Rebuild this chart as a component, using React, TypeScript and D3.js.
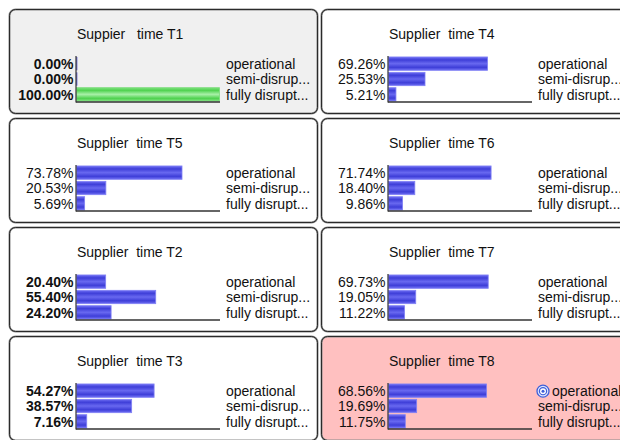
import React from "react";
import * as d3 from "d3";

const titles = [
  "Suppier   time T1",
  "Supplier  time T4",
  "Supplier  time T5",
  "Supplier  time T6",
  "Supplier  time T2",
  "Supplier  time T7",
  "Supplier  time T3",
  "Supplier  time T8",
];
const states = ["operational", "semi-disrup...", "fully disrupt..."];
const valuesT1 = [0.0, 0.0, 100.0];
const valuesT4 = [69.26, 25.53, 5.21];
const valuesT5 = [73.78, 20.53, 5.69];
const valuesT6 = [71.74, 18.4, 9.86];
const valuesT2 = [20.4, 55.4, 24.2];
const valuesT7 = [69.73, 19.05, 11.22];
const valuesT3 = [54.27, 38.57, 7.16];
const valuesT8 = [68.56, 19.69, 11.75];
const nodeValues = [valuesT1, valuesT4, valuesT5, valuesT6, valuesT2, valuesT7, valuesT3, valuesT8];
const observed = [true, false, false, false, true, false, true, false];
const nodeKind = ["finding", "normal", "normal", "normal", "normal", "normal", "normal", "target"];

const FONT = "'Liberation Sans', Arial, Helvetica, sans-serif";

export default function App() {
  const colX = d3.scaleOrdinal<number, number>().domain([0, 1]).range([9, 321]);
  const rowY = d3.scaleOrdinal<number, number>().domain([0, 1, 2, 3]).range([9, 118, 227, 336]);
  const barX = d3.scaleLinear().domain([0, 100]).range([0, 143]);
  const barY = d3.scaleBand<number>().domain([0, 1, 2]).range([47.5, 92.5]).paddingInner(0.13).paddingOuter(0.03);
  const W = 308;
  const H = 104;

  return (
    <svg width={620} height={440} style={{ position: "absolute", left: 0, top: 0 }} fontFamily={FONT}>
      <defs>
        <linearGradient id="blueG" x1="0" y1="0" x2="0" y2="1">
          <stop offset="0" stopColor="#7070f4" />
          <stop offset="0.22" stopColor="#3e3ed8" />
          <stop offset="0.5" stopColor="#6868f0" />
          <stop offset="0.78" stopColor="#3e3ed8" />
          <stop offset="1" stopColor="#7070f4" />
        </linearGradient>
        <linearGradient id="greenG" x1="0" y1="0" x2="0" y2="1">
          <stop offset="0" stopColor="#7ee07e" />
          <stop offset="0.2" stopColor="#4fd24f" />
          <stop offset="0.5" stopColor="#a8f0a8" />
          <stop offset="0.8" stopColor="#4fd24f" />
          <stop offset="1" stopColor="#7ee07e" />
        </linearGradient>
      </defs>
      <rect x={0} y={0} width={620} height={440} fill="#ffffff" />
      {titles.map((title, i) => {
        const col = i % 2;
        const row = Math.floor(i / 2);
        const px = colX(col);
        const py = rowY(row);
        const vals = nodeValues[i];
        const fill = nodeKind[i] === "finding" ? "#f0f0f0" : nodeKind[i] === "target" ? "#ffc0c0" : "#ffffff";
        const axisX = px + 67;
        return (
          <g key={i}>
            <rect x={px + 0.5} y={py + 0.5} width={W} height={H} rx={6} ry={6} fill={fill} stroke="#8a8a8a" strokeWidth={2} />
            <rect x={px + 0.5} y={py + 0.5} width={W} height={H} rx={6} ry={6} fill="none" stroke="#2a2a2a" strokeWidth={1} />
            <text x={px + 68} y={py + 29.5} fontSize={14} fill="#111" style={{ whiteSpace: "pre" }}>
              {title}
            </text>
            {vals.map((v, j) => {
              const y = py + (barY(j) as number);
              const bh = barY.bandwidth();
              const w = barX(v);
              const isGreen = observed[i] && i === 0;
              return (
                <g key={j}>
                  {w > 0 ? (
                    <rect
                      x={axisX + 0.5}
                      y={y}
                      width={w}
                      height={bh}
                      fill={isGreen ? "url(#greenG)" : "url(#blueG)"}
                      stroke={isGreen ? "#7cdc7c" : "#8080f4"}
                      strokeWidth={0.8}
                    />
                  ) : (
                    <line x1={axisX + 0.8} x2={axisX + 0.8} y1={y} y2={y + bh} stroke="#4040d0" strokeWidth={1} />
                  )}
                  <text
                    x={px + 64.5}
                    y={y + bh - 1.5}
                    fontSize={14}
                    textAnchor="end"
                    fontWeight={observed[i] ? "bold" : "normal"}
                    fill="#111"
                  >
                    {d3.format(".2f")(v) + "%"}
                  </text>
                  {nodeKind[i] === "target" && j === 0 ? (
                    <g>
                      <circle cx={px + 222} cy={y + bh / 2 + 0.5} r={6} fill="#dfe6ff" stroke="#3e5fd8" strokeWidth={1.3} />
                      <circle cx={px + 222} cy={y + bh / 2 + 0.5} r={3.6} fill="#ffffff" stroke="#3e5fd8" strokeWidth={1.2} />
                      <circle cx={px + 222} cy={y + bh / 2 + 0.5} r={1.5} fill="#3e5fd8" />
                    </g>
                  ) : null}
                  <text
                    x={nodeKind[i] === "target" && j === 0 ? px + 231 : px + 217}
                    y={y + bh - 1.5}
                    fontSize={14}
                    fill="#111"
                  >
                    {states[j]}
                  </text>
                </g>
              );
            })}
            <line x1={axisX} x2={axisX} y1={py + 47} y2={py + 93.5} stroke="#333" strokeWidth={1.2} />
            <line x1={axisX} x2={axisX + barX(100) + 1} y1={py + 93} y2={py + 93} stroke="#333" strokeWidth={1.5} />
          </g>
        );
      })}
    </svg>
  );
}
